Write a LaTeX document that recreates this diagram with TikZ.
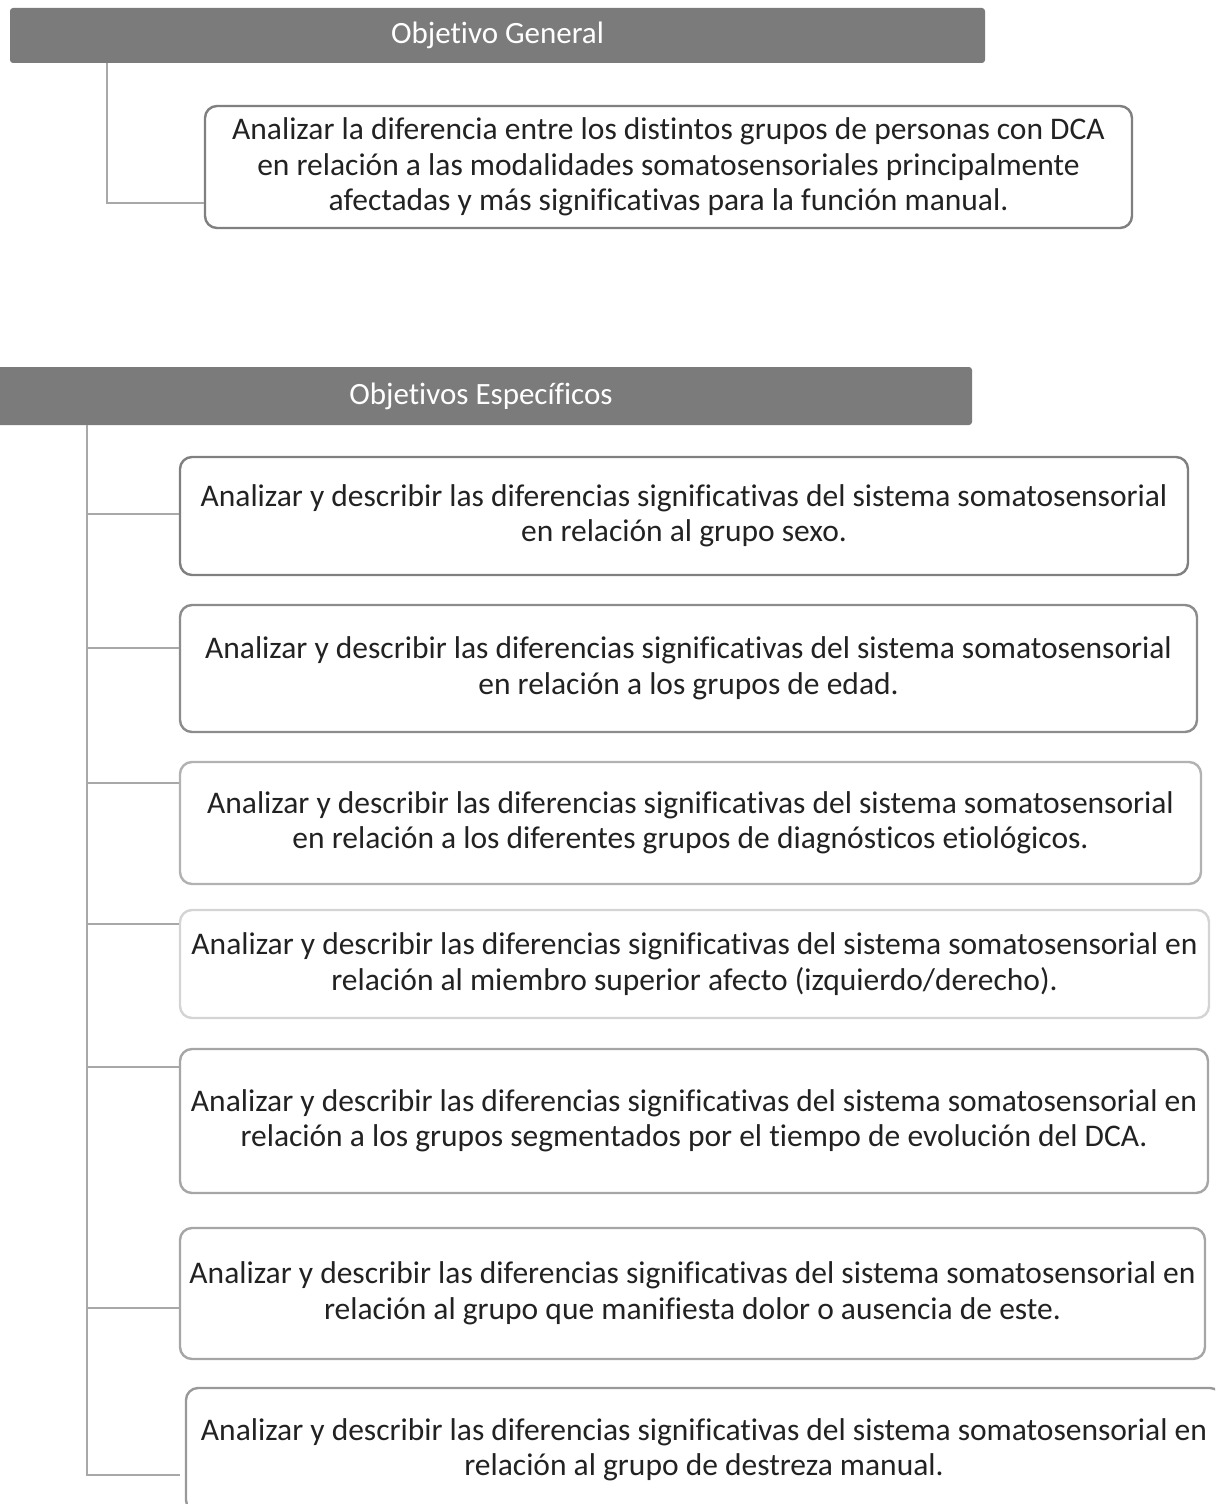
\documentclass[tikz,border=0pt]{standalone}
\usepackage{fontspec}
\setmainfont[Ligatures=NoCommon]{Carlito}
\definecolor{hdr}{HTML}{7B7B7B}
\definecolor{conn}{HTML}{A8A8A8}
\definecolor{txt}{HTML}{222222}
\begin{document}
\begin{tikzpicture}[x=1pt,y=-1pt,
  hdrbox/.style={fill=hdr,draw=none,rounded corners=3pt,text=white,font=\fontsize{31}{35}\selectfont,inner sep=0pt},
  objbox/.style={draw=#1,line width=2.4pt,rounded corners=12pt,fill=white,text=txt,align=center,inner sep=0pt,font=\fontsize{31.5}{35.5}\selectfont},
  connline/.style={draw=conn,line width=2.8pt}]
\useasboundingbox (0,0) rectangle (1215,1504);
\clip (0,0) rectangle (1215,1504);

% Objetivo General
\node[hdrbox,minimum width=975pt,minimum height=55pt] (h1) at (497.5,35.5) {Objetivo General};
\node[objbox=black!50,minimum width=927pt,minimum height=122pt] (go) at (668.5,167)
  {Analizar la diferencia entre los distintos grupos de personas con DCA\\
   en relación a las modalidades somatosensoriales principalmente\\
   afectadas y más significativas para la función manual.};
\coordinate (ta) at (107,63);
\coordinate (ya) at (0,203);
\draw[connline] (ta) |- (go.west |- ya);

% Objetivos Especificos
\node[hdrbox,minimum width=982pt,minimum height=58pt] (h2) at (481,396) {Objetivos Específicos};

\node[objbox=black!50,minimum width=1008pt,minimum height=118pt] (b1) at (684,516)
  {Analizar y describir las diferencias significativas del sistema somatosensorial\\
   en relación al grupo sexo.};
\node[objbox=black!45,minimum width=1017pt,minimum height=127pt] (b2) at (688.5,668.5)
  {Analizar y describir las diferencias significativas del sistema somatosensorial\\
   en relación a los grupos de edad.};
\node[objbox=black!30,minimum width=1021pt,minimum height=122pt] (b3) at (690.5,823)
  {Analizar y describir las diferencias significativas del sistema somatosensorial\\
   en relación a los diferentes grupos de diagnósticos etiológicos.};
\node[objbox=black!17,minimum width=1029pt,minimum height=108pt] (b4) at (694.5,964)
  {Analizar y describir las diferencias significativas del sistema somatosensorial en\\
   relación al miembro superior afecto (izquierdo/derecho).};
\node[objbox=black!35,minimum width=1028pt,minimum height=144pt] (b5) at (694,1121)
  {Analizar y describir las diferencias significativas del sistema somatosensorial en\\
   relación a los grupos segmentados por el tiempo de evolución del DCA.};
\node[objbox=black!35,minimum width=1025pt,minimum height=131pt] (b6) at (692.5,1293.5)
  {Analizar y describir las diferencias significativas del sistema somatosensorial en\\
   relación al grupo que manifiesta dolor o ausencia de este.};
\node[objbox=black!40,minimum width=1036pt,minimum height=124pt] (b7) at (704,1450)
  {Analizar y describir las diferencias significativas del sistema somatosensorial en\\
   relación al grupo de destreza manual.};

\coordinate (tb) at (87,425);
\coordinate (y1) at (0,514);
\coordinate (y2) at (0,648);
\coordinate (y3) at (0,783);
\coordinate (y4) at (0,924);
\coordinate (y5) at (0,1067);
\coordinate (y6) at (0,1308);
\coordinate (y7) at (180,1475);
\draw[connline] (tb) |- (y7);
\foreach \i in {1,...,6}{
  \draw[connline] (tb |- y\i) -- (b\i.west |- y\i);
}
\end{tikzpicture}
\end{document}
